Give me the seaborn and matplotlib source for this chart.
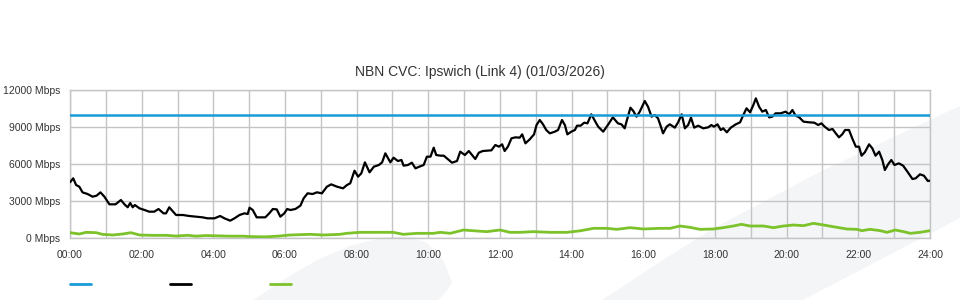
import matplotlib
matplotlib.use("Agg")
import matplotlib.pyplot as plt
from matplotlib.patches import Polygon
from matplotlib.lines import Line2D
import seaborn as sns
import pandas as pd

# ---------------- data ----------------
title = "NBN CVC: Ipswich (Link 4) (01/03/2026)"

cap_hours = [0.0, 24.0]
cap_mbps = [10000, 10000]

traffic_hours = [
    0.00, 0.09, 0.17, 0.26, 0.35, 0.49, 0.63, 0.74, 0.85, 0.96, 1.02, 1.10, 1.27, 1.42, 1.52,
    1.61, 1.68, 1.75, 1.81, 1.94, 2.08, 2.21, 2.35, 2.47, 2.61, 2.68, 2.77, 2.96, 3.15, 3.33,
    3.52, 3.70, 3.84, 4.03, 4.19, 4.31, 4.47, 4.59, 4.73, 4.87, 4.96, 5.01, 5.10, 5.21, 5.33,
    5.45, 5.56, 5.66, 5.77, 5.87, 5.98, 6.06, 6.15, 6.29, 6.43, 6.52, 6.63, 6.77, 6.89, 7.03,
    7.17, 7.29, 7.45, 7.62, 7.73, 7.82, 7.94, 8.04, 8.13, 8.23, 8.36, 8.48, 8.62, 8.71, 8.80,
    8.94, 9.03, 9.15, 9.25, 9.31, 9.43, 9.54, 9.64, 9.75, 9.87, 9.96, 10.06, 10.15, 10.22, 10.34,
    10.43, 10.54, 10.66, 10.80, 10.89, 11.02, 11.13, 11.22, 11.31, 11.41, 11.52, 11.64, 11.76, 11.87, 11.97,
    12.06, 12.13, 12.22, 12.32, 12.43, 12.55, 12.62, 12.71, 12.83, 12.95, 13.02, 13.11, 13.20, 13.29, 13.39,
    13.53, 13.62, 13.73, 13.81, 13.88, 13.99, 14.09, 14.15, 14.25, 14.35, 14.44, 14.55, 14.65, 14.74, 14.88,
    15.01, 15.15, 15.29, 15.39, 15.48, 15.53, 15.64, 15.72, 15.81, 15.90, 16.04, 16.13, 16.23, 16.32, 16.41,
    16.49, 16.55, 16.65, 16.74, 16.88, 16.97, 17.07, 17.16, 17.25, 17.33, 17.42, 17.53, 17.67, 17.81, 17.90,
    17.97, 18.07, 18.16, 18.23, 18.33, 18.44, 18.58, 18.70, 18.79, 18.88, 18.98, 19.07, 19.14, 19.23, 19.32,
    19.42, 19.51, 19.60, 19.69, 19.83, 19.97, 20.07, 20.16, 20.25, 20.35, 20.47, 20.63, 20.77, 20.88, 20.97,
    21.06, 21.18, 21.28, 21.37, 21.46, 21.55, 21.63, 21.74, 21.83, 21.93, 22.02, 22.09, 22.18, 22.30, 22.39,
    22.48, 22.58, 22.67, 22.74, 22.83, 22.92, 23.01, 23.13, 23.25, 23.37, 23.51, 23.60, 23.72, 23.83, 23.94,
    24.00,
]
traffic_mbps = [
    4516, 4840, 4297, 4160, 3700, 3567, 3350, 3430, 3700, 3350, 3080, 2730, 2730, 3080, 2730,
    2490, 2840, 2490, 2675, 2405, 2270, 2135, 2135, 2350, 2000, 2000, 2490, 1865, 1865, 1784,
    1730, 1675, 1595, 1595, 1784, 1595, 1405, 1595, 1865, 2000, 1945, 2460, 2270, 1675, 1675,
    1675, 2000, 2350, 2320, 1730, 2000, 2351, 2270, 2351, 2621, 3216, 3622, 3567, 3703, 3622,
    4162, 4351, 4162, 4027, 4297, 4432, 5459, 4973, 5243, 6135, 5324, 5784, 5919, 6135, 6865,
    6135, 6513, 6243, 6324, 5865, 5919, 6108, 5649, 5784, 5919, 6594, 6594, 7324, 6730, 6675,
    6675, 6405, 6108, 6243, 7000, 6730, 7054, 6730, 6405, 6919, 7054, 7081, 7108, 7541, 7405,
    7595, 7054, 7405, 8081, 8162, 8135, 8405, 7676, 8000, 8405, 9162, 9567, 9216, 8757, 8486,
    8621, 8757, 9567, 9162, 8405, 8621, 8757, 9108, 9108, 9351, 9297, 10027, 9486, 9027, 8621,
    9162, 9784, 9297, 9216, 8892, 9432, 10567, 10297, 9838, 10243, 11108, 10648, 9838, 9973, 9703,
    9027, 8486, 9027, 9216, 8946, 9378, 10027, 8892, 9162, 9757, 8946, 9108, 8892, 8973, 9162,
    9027, 9216, 8757, 8892, 8568, 8946, 9216, 9378, 9973, 10514, 10189, 10784, 11324, 10648, 10243,
    10378, 9784, 9838, 10108, 10108, 10243, 10027, 10378, 9919, 9784, 9432, 9378, 9351, 9162, 9297,
    9027, 8757, 8838, 8486, 8162, 8405, 8757, 8757, 8081, 7405, 7405, 6675, 6946, 7595, 7270,
    6675, 7000, 6324, 5513, 5973, 6324, 5919, 6054, 5865, 5378, 4784, 4838, 5162, 5054, 4622,
    4649,
]

upload_hours = [
    0.00, 0.26, 0.45, 0.73, 0.91, 1.19, 1.47, 1.70, 1.94, 2.31, 2.68, 2.96, 3.28, 3.52, 3.80,
    4.19, 4.45, 4.82, 5.02, 5.28, 5.49, 5.84, 6.14, 6.70, 7.07, 7.53, 7.72, 8.09, 8.56, 9.02,
    9.30, 9.68, 10.14, 10.33, 10.61, 10.98, 11.35, 11.63, 12.00, 12.28, 12.56, 12.93, 13.40, 13.86, 14.23,
    14.61, 14.98, 15.26, 15.63, 16.00, 16.47, 16.75, 17.02, 17.30, 17.58, 17.95, 18.23, 18.51, 18.74, 18.98,
    19.35, 19.63, 19.91, 20.19, 20.47, 20.75, 21.03, 21.40, 21.68, 21.96, 22.10, 22.33, 22.61, 22.80, 23.03,
    23.26, 23.45, 23.72, 24.00,
]
upload_mbps = [
    432, 324, 459, 432, 297, 243, 324, 432, 243, 216, 216, 160, 216, 150, 200,
    170, 150, 150, 120, 100, 100, 160, 243, 297, 243, 297, 378, 459, 459, 459,
    297, 378, 378, 459, 378, 649, 568, 514, 649, 459, 459, 514, 459, 459, 580,
    784, 784, 703, 838, 730, 784, 784, 973, 865, 703, 730, 838, 973, 1108, 973,
    973, 838, 973, 1054, 1000, 1189, 1054, 865, 730, 703, 595, 703, 595, 460, 649,
    514, 378, 460, 595,
]

x_tick_hours = list(range(0, 25, 2))
x_tick_labels = [f"{h:02d}:00" for h in x_tick_hours]
y_ticks = [0, 3000, 6000, 9000, 12000]
y_tick_labels = [f"{v} Mbps" for v in y_ticks]

# ---------------- style ----------------
sns.set_style("white")
plt.rcParams["font.family"] = ["Liberation Sans", "DejaVu Sans"]
TEXT = "#333333"
GRID = "#c4c4c4"
BLUE = "#1a9bd7"
GREEN = "#7cc22a"
BLACK = "#000000"

fig = plt.figure(figsize=(9.6, 3.0), dpi=100)
fig.patch.set_facecolor("white")

# background watermark shapes (decorative)
W, H = 960.0, 300.0
def fc(pts):
    return [(x / W, 1 - y / H) for x, y in pts]

band = fc([(602, 300), (660, 262), (714, 228), (820, 172), (934, 118), (960, 106),
           (960, 218), (803, 300)])
swoosh = fc([(253, 300), (283, 280), (317, 260), (350, 246), (377, 239), (400, 236),
             (410, 237), (427, 243), (443, 260), (452, 282), (446, 292), (438, 300)])
for poly in (band, swoosh):
    fig.patches.append(Polygon(poly, closed=True, transform=fig.transFigure,
                               facecolor="#f4f5f7", edgecolor="none", zorder=-5))

ax = fig.add_axes([70 / W, 1 - 238 / H, 860 / W, 148 / H])
ax.set_zorder(1)
ax.set_facecolor("none")

df_cap = pd.DataFrame({"hour": cap_hours, "mbps": cap_mbps})
df_tr = pd.DataFrame({"hour": traffic_hours, "mbps": traffic_mbps})
df_up = pd.DataFrame({"hour": upload_hours, "mbps": upload_mbps})

sns.lineplot(data=df_up, x="hour", y="mbps", ax=ax, color=GREEN, linewidth=2.0, zorder=3)
sns.lineplot(data=df_tr, x="hour", y="mbps", ax=ax, color=BLACK, linewidth=1.6, zorder=4)
sns.lineplot(data=df_cap, x="hour", y="mbps", ax=ax, color=BLUE, linewidth=1.8, zorder=5)

ax.set_xlim(0, 24)
ax.set_ylim(0, 12000)
ax.set_xticks(x_tick_hours)
ax.set_xticklabels(x_tick_labels)
ax.set_xticks(range(0, 25), minor=True)
ax.set_yticks(y_ticks)
ax.set_yticklabels(y_tick_labels)
ax.set_xlabel("")
ax.set_ylabel("")
ax.tick_params(axis="both", which="both", length=0, labelsize=7.5, colors=TEXT)
ax.tick_params(axis="x", pad=9)
ax.tick_params(axis="y", pad=7)
ax.grid(True, which="both", axis="x", color=GRID, linewidth=1.0, zorder=1)
ax.grid(True, which="major", axis="y", color=GRID, linewidth=1.0, zorder=1)
ax.set_axisbelow(True)
for s in ax.spines.values():
    s.set_visible(True)
    s.set_color(GRID)
    s.set_linewidth(1.0)

fig.text(0.5, 1 - 72 / H, title, fontsize=10, color=TEXT, ha="center", va="center")

handles = [Line2D([], [], color=BLUE, linewidth=2.0),
           Line2D([], [], color=BLACK, linewidth=2.0),
           Line2D([], [], color=GREEN, linewidth=2.0)]
fig.legend(handles, ["", "", ""], loc="center left", bbox_to_anchor=(70 / W, 1 - 285 / H),
           ncol=3, frameon=False, fontsize=7.5, borderpad=0, borderaxespad=0,
           handlelength=2.0, handletextpad=0.0, columnspacing=7.6)

fig.savefig("out.png", dpi=100, facecolor="white")
